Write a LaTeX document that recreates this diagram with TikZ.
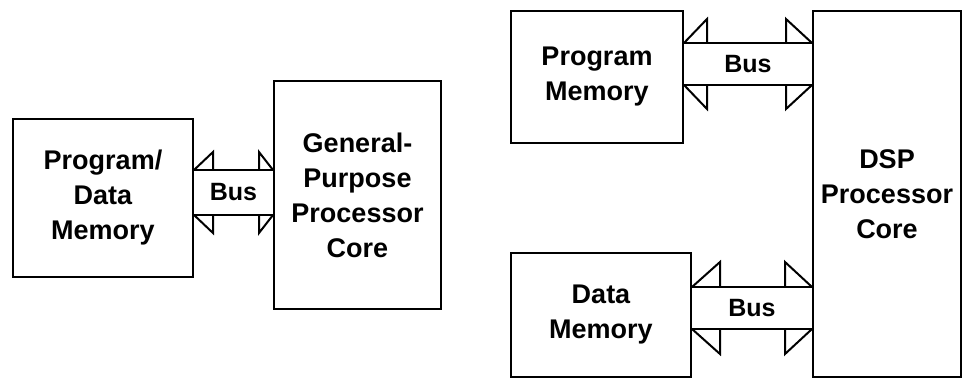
\documentclass[tikz,border=0pt]{standalone}
\usepackage{fontspec}
\setmainfont{Liberation Sans}

% bus between two blocks: left node, right node, band top, band bottom,
% left head width, right head width, head height, label name
\newcommand{\busconn}[8]{%
  \draw (#1.east |- 0,#3) -- (#2.west |- 0,#3);
  \draw (#1.east |- 0,#4) -- (#2.west |- 0,#4);
  \draw (#1.east |- 0,#3) -- ++(#5,-#7) -- ++(0,#7);
  \draw (#1.east |- 0,#4) -- ++(#5,#7) -- ++(0,-#7);
  \draw (#2.west |- 0,#3) -- ++(-#6,-#7) -- ++(0,#7);
  \draw (#2.west |- 0,#4) -- ++(-#6,#7) -- ++(0,-#7);
  \path (#1.east |- 0,#3) -- (#2.west |- 0,#4) node[midway, buslabel] (#8) {Bus};
}

\begin{document}
\begin{tikzpicture}[x=0.5pt,y=-0.5pt,line width=1pt,
    block/.style={draw, rectangle, align=center, inner sep=0pt,
      font=\bfseries\fontsize{13.5}{17.5}\selectfont},
    buslabel/.style={inner sep=0pt, font=\bfseries\fontsize{12.5}{14}\selectfont}]
    \useasboundingbox (0,0) rectangle (963,379);

    % von Neumann side
    \node (pdm) [block, minimum width=90pt, minimum height=79pt] at (103,198) {Program/\\Data\\Memory};
    \node (gpc) [block, minimum width=83.5pt, minimum height=114pt] at (357.5,195) {General-\\Purpose\\Processor\\Core};

    % Harvard side
    \node (pm) [block, minimum width=86pt, minimum height=66pt] at (597,77) {Program\\Memory};
    \node (dm) [block, minimum width=90pt, minimum height=62pt] at (601,315) {Data\\Memory};
    \node (dsp) [block, minimum width=74pt, minimum height=183pt] at (887,194) {DSP\\Processor\\Core};

    \busconn{pdm}{gpc}{170}{215}{19}{14}{18}{bus1}
    \busconn{pm}{dsp}{43}{85}{23}{26}{24}{bus2}
    \busconn{dm}{dsp}{287}{329}{28}{27}{25}{bus3}
\end{tikzpicture}
\end{document}
